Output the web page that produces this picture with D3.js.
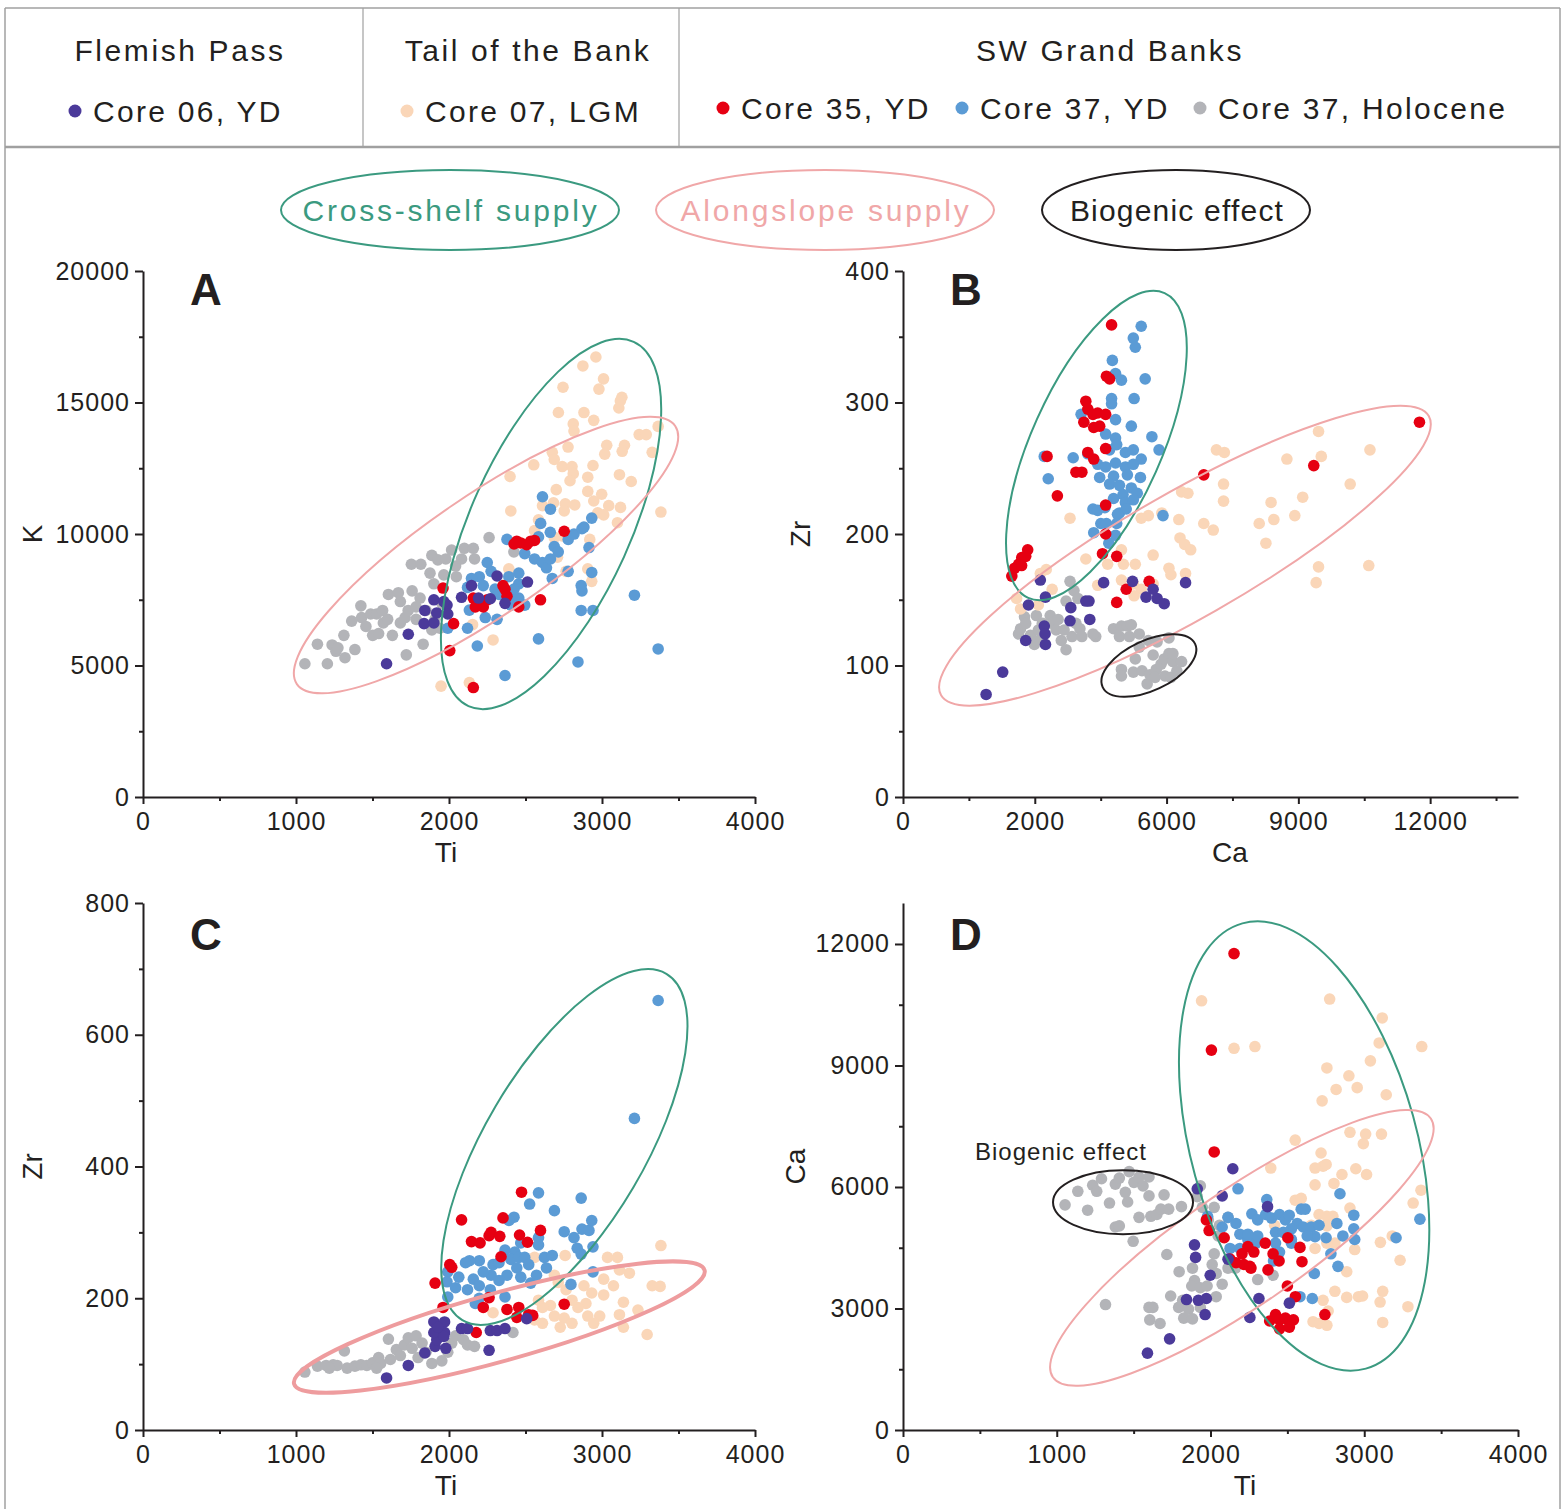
<!DOCTYPE html>
<html>
<head>
<meta charset="utf-8">
<script src="https://cdn.jsdelivr.net/npm/d3@7"></script>
<style>
  body { margin: 0; background: #fff; }
  text { font-family: "Liberation Sans", Arial, sans-serif; fill: #231f20; }
</style>
</head>
<body>
<div id="chart"></div>
<script>
// ---- data ----
// Panel A : Ti vs K
var a06 = [[1592,5066],[1734,6188],[1837,6593],[1842,7093],[1901,7498],[1920,6998],[1901,6620],[1987,7296],[1992,6958],[2082,7593],[2147,8038],[2193,7565],[2270,7538],[2314,8403],[2513,8174],[2366,7363],[1966,7431]];
var a07 = [[2960,16730],[2875,16390],[3010,15900],[2745,15580],[2980,15510],[3130,15200],[3120,15060],[3110,14790],[2715,14620],[2882,14618],[2946,14321],[2812,14186],[2817,13915],[3367,14091],[3243,13780],[3289,13780],[3031,13375],[3147,13375],[2778,13307],[2675,13105],[3018,13037],[3132,13145],[3328,13105],[2688,12834],[2740,12564],[2804,12564],[2812,12294],[2941,12605],[2554,12632],[2399,12186],[2907,12159],[3114,12254],[3191,11997],[2791,12024],[2701,11687],[2907,11619],[2998,11511],[2946,11254],[2760,11146],[2822,11105],[2683,11186],[2611,11078],[3044,11078],[3121,11011],[2753,10876],[2972,10808],[3011,10727],[2404,10876],[2585,10538],[3385,10835],[3101,10430],[2559,10133],[2688,9863],[2740,9930],[2920,9795],[2709,9119],[2391,8673],[2907,8673],[2933,8200],[2765,8579],[2288,5972],[2154,6553],[2133,4350],[1948,4215]];
var a35 = [[2443,9727],[2469,9660],[2534,9727],[2559,9754],[2508,9592],[2425,9619],[2753,10105],[2353,8038],[2366,7903],[2379,7633],[2159,7565],[2198,7431],[2224,7228],[2172,7228],[2250,7498],[2456,7228],[2598,7498],[2030,6593],[2005,5566],[2159,4161],[1961,7944]];
var a37 = [[2611,11416],[2663,10943],[2599,10403],[2662,10065],[2779,9795],[2817,9998],[2869,10200],[2882,10265],[2933,10605],[2915,9484],[2688,9525],[2585,9890],[2379,9795],[2495,9255],[2559,9052],[2611,8916],[2637,8714],[2714,9322],[2250,8916],[2275,8579],[2391,8376],[2456,8511],[2456,8106],[2198,8376],[2147,8309],[2121,7970],[2224,8038],[2301,7903],[2417,7633],[2456,7565],[2405,7296],[2495,7296],[2425,7903],[2327,7701],[2133,7106],[2237,6823],[2314,6755],[2121,6417],[1992,6417],[2185,5741],[2675,8309],[2779,8579],[2869,7836],[2864,8038],[2933,8538],[2864,7093],[2941,7093],[2585,6012],[3212,7673],[3367,5629],[2843,5134],[2366,4620],[2663,9052]];
var a37h = [[1058,5066],[1205,5066],[1140,5809],[1236,5782],[1261,5539],[1320,5296],[1385,5606],[1424,7268],[1429,6823],[1488,6958],[1527,6958],[1457,6485],[1501,6147],[1540,6215],[1571,6620],[1599,6755],[1604,7701],[1630,6147],[1669,7768],[1682,6620],[1713,6823],[1733,7093],[1721,5404],[1759,7836],[1785,6755],[1811,7565],[1831,5809],[1754,8849],[1816,8849],[1850,7093],[1888,9187],[1876,8511],[1901,8106],[1909,6755],[1927,9018],[1966,8444],[1979,9052],[2017,9390],[2043,8782],[2048,8376],[2082,9052],[2100,9457],[2159,9457],[2167,9052],[2262,9863],[2424,9322],[1953,7363],[1940,6417],[1888,6350],[1785,7228],[1682,7431],[1566,7093],[1313,6147],[1364,6688],[1274,5674]];

// Panel B : Ca vs Zr
var b06 = [[1892,78],[2270,95],[3126,165],[2856,146],[3243,152],[2793,119],[3216,130],[3234,124],[3243,116],[3802,134],[3820,144],[4162,149],[4234,149],[4252,135],[4567,163],[5225,164],[5532,152],[5694,158],[5784,151],[5946,147],[6432,163]];
var b07 = [[9459,278],[9522,259],[7135,264],[7315,262],[8739,257],[10630,264],[10180,238],[7297,238],[8379,224],[9099,228],[6342,232],[6486,231],[7297,225],[8919,214],[8442,211],[8109,208],[6847,208],[7063,203],[6279,211],[5892,216],[5585,214],[5423,212],[3802,212],[6306,197],[6414,192],[6549,188],[8261,193],[9459,175],[10603,176],[9405,163],[5694,184],[4973,188],[5288,177],[5018,177],[4658,177],[6054,174],[6099,169],[6432,170],[4162,181],[3261,173],[3126,170],[3396,158],[2586,151],[2676,143],[4432,161],[4973,165],[5243,162],[5423,158],[5694,162],[5261,153],[3081,146]];
var b35 = [[4748,359],[4631,320],[4703,318],[4162,301],[4207,295],[4117,285],[4324,291],[4432,292],[4613,291],[4342,281],[4477,282],[4207,262],[4613,265],[4342,257],[3937,247],[4072,247],[3279,259],[3514,229],[4613,222],[4613,200],[6847,245],[9351,252],[11757,285],[2477,168],[2541,174],[2631,177],[2703,182],[2793,183],[2838,188],[2700,176],[4541,185],[4865,183],[5604,164],[5081,158],[4865,148]];
var b37 = [[5423,358],[5243,349],[5288,342],[4766,332],[4838,322],[4973,317],[5513,318],[5261,303],[4748,303],[4748,299],[4838,287],[4054,291],[5198,282],[4613,276],[5666,274],[5829,264],[4838,273],[4865,268],[4703,264],[5063,262],[5243,264],[3216,259],[3874,258],[4207,261],[5423,257],[4432,253],[4613,251],[4838,254],[5063,251],[5243,253],[3306,242],[4477,243],[4793,244],[5108,245],[5405,243],[4703,238],[4928,237],[5198,235],[5333,231],[5009,230],[4793,227],[5063,224],[5243,226],[4324,219],[4432,218],[4595,220],[4928,216],[5081,219],[4883,215],[4504,208],[4631,208],[4865,208],[5919,214],[4342,201],[4838,199],[4685,193]];
var b37h = [[2766,137],[2676,128],[2631,124],[2793,132],[2901,123],[3036,138],[3081,127],[3171,132],[3081,119],[3351,138],[3396,132],[3486,127],[3531,135],[3604,119],[3712,112],[3802,164],[3892,157],[3712,149],[3982,151],[3937,132],[3847,122],[4027,128],[4072,122],[3667,127],[4387,122],[4324,124],[2991,116],[4793,128],[4973,130],[5108,130],[5198,131],[4928,122],[5153,122],[5378,124],[5585,119],[5784,118],[6054,121],[5378,114],[5288,105],[4973,97],[4973,92],[5243,95],[5441,96],[5558,86],[5621,93],[5766,97],[5874,101],[5946,105],[6054,109],[6144,103],[6234,96],[6342,103],[5964,92],[5739,91],[6099,91],[6144,109],[5694,108]];

// Panel C : Ti vs Zr
var c06 = [[1592,79],[1734,98],[1842,117],[1909,127],[1920,137],[1901,148],[1901,164],[1971,164],[1971,148],[1979,124],[1966,142],[1927,156],[2082,154],[2121,154],[2262,121],[2270,151],[2314,151],[2366,154],[2508,169]];
var c07 = [[3385,280],[3328,219],[3380,218],[3179,238],[3114,243],[3036,262],[3101,262],[3011,229],[3075,219],[2759,265],[2689,235],[2714,224],[2765,213],[2882,219],[2933,208],[2895,192],[3011,205],[3140,194],[3235,182],[3114,175],[2985,173],[2907,173],[2843,186],[2804,197],[2663,189],[2611,186],[2689,173],[2753,170],[2804,162],[2727,156],[2611,162],[2559,167],[2946,162],[3140,156],[3295,145],[2559,262],[2288,178],[2585,197]];
var c35 = [[2474,361],[2082,319],[2353,322],[2598,303],[2147,286],[2203,284],[2262,295],[2275,300],[2332,294],[2461,296],[2513,285],[2340,263],[2005,251],[2018,247],[1909,223],[2262,201],[1961,186],[2224,186],[2456,186],[2379,183],[2443,171],[2521,175],[2547,174],[2178,148],[2753,191]];
var c37 = [[3367,652],[3212,473],[2585,360],[2527,343],[2425,323],[2392,318],[2864,352],[2689,333],[2753,301],[2817,292],[2869,305],[2915,303],[2933,318],[2838,276],[2864,267],[2941,278],[2585,292],[2585,281],[2469,284],[2430,270],[2366,273],[2288,251],[2327,254],[2405,259],[2456,262],[2495,262],[2521,251],[2624,262],[2675,265],[2637,246],[2572,235],[2534,223],[2443,246],[2379,235],[2327,227],[2275,235],[2224,240],[2198,257],[2134,257],[2108,254],[2159,229],[2064,232],[1992,240],[1987,225],[2043,216],[2121,213],[2198,219],[2270,213],[2366,202],[2198,200],[2172,192],[1992,202],[2469,232],[2941,240],[2797,221]];
var c37h = [[1058,88],[1140,97],[1197,98],[1243,99],[1269,98],[1316,120],[1334,94],[1385,97],[1424,99],[1463,98],[1501,102],[1540,110],[1553,101],[1604,138],[1617,107],[1656,122],[1682,113],[1708,129],[1734,140],[1759,124],[1785,143],[1798,110],[1824,132],[1850,118],[1888,101],[2018,132],[2043,143],[2095,137],[2121,129],[2167,127],[1992,118],[1953,105],[2418,148],[1527,94],[1218,94]];

// Panel D : Ti vs Ca
var d06 = [[2145,6450],[2371,5515],[2076,5780],[1914,5956],[1896,4571],[1903,4262],[2114,4218],[1998,3821],[1844,3221],[1921,3203],[1973,3247],[1965,2850],[2315,3247],[2513,3132],[2256,2780],[1734,2250],[1590,1897]];
var d07 = [[1942,10597],[2775,10641],[3117,10174],[2153,9424],[2289,9468],[3097,9556],[3374,9468],[3040,9115],[2757,8939],[2900,8745],[2817,8409],[2954,8453],[2726,8127],[3143,8277],[2551,7156],[2907,7350],[3009,7306],[3112,7306],[2994,7068],[2719,6839],[2732,6512],[2752,6556],[2680,6468],[2680,6053],[2803,6088],[2855,6309],[2945,6450],[3015,6309],[2392,6468],[2907,5480],[3318,5603],[3369,5921],[2551,5674],[2590,5718],[2706,5321],[2757,5277],[2796,5277],[2655,5056],[2706,5056],[2757,5039],[2417,5056],[2680,4483],[2757,4615],[2809,4615],[2938,4456],[3105,4633],[3182,4791],[2886,3909],[3233,4191],[2809,3424],[2886,3274],[2963,3291],[2989,3309],[3120,3424],[3103,3159],[3284,3044],[2732,3203],[2765,2938],[2667,2674],[2706,2630],[2757,2585],[3120,2656]];
var d35 = [[2153,11763],[2006,9380],[2024,6865],[1991,4924],[1973,5188],[2089,4747],[2127,4218],[2166,4130],[2205,4350],[2243,4527],[2282,4394],[2217,4086],[2263,3997],[2356,4615],[2374,3953],[2407,4350],[2446,4174],[2503,4747],[2582,4509],[2595,4156],[2500,3556],[2552,3291],[2385,2691],[2423,2850],[2449,2718],[2487,2762],[2513,2674],[2539,2718],[2449,2497],[2513,2541],[2744,2850],[2256,4041]];
var d37 = [[2179,5956],[2366,5691],[2842,5833],[3362,5206],[3207,4747],[1981,5277],[2114,5250],[2166,5100],[2076,5012],[2269,5338],[2307,5188],[2359,5321],[2397,5233],[2449,5321],[2487,5188],[2512,5303],[2564,5100],[2590,5453],[2616,5453],[2603,5012],[2655,5012],[2680,4774],[2752,4747],[2822,5100],[2861,4791],[2932,5303],[2932,4968],[2938,4703],[2829,4041],[2783,4350],[2675,3865],[2582,3291],[2662,3247],[2191,4835],[2243,4703],[2295,4615],[2423,4880],[2423,4615],[2307,4791],[2127,4483],[2191,4483],[2243,4835],[2526,4968],[2474,4880],[2526,4703],[2449,4394],[2410,4174],[2526,4615],[2629,4791],[2706,5056]];
var d37h = [[1054,5559],[1137,5894],[1201,5427],[1234,6044],[1260,5894],[1291,6203],[1381,6071],[1407,6221],[1343,5603],[1446,5868],[1461,5630],[1471,6380],[1502,6115],[1535,6247],[1561,6027],[1600,6247],[1600,5780],[1535,5250],[1381,5012],[1407,5039],[1612,5277],[1651,5321],[1698,5806],[1677,5453],[1728,5453],[1811,5515],[1497,4659],[1317,3097],[1914,5762],[1934,6027],[1947,5497],[1986,5188],[2024,5497],[2114,5250],[2058,5056],[2050,4791],[2024,4350],[2011,4086],[2037,3865],[2076,3600],[2114,3997],[2161,3997],[2307,3715],[2407,3821],[1716,4333],[1796,3909],[1883,3997],[1896,3688],[1878,3556],[1934,3512],[1978,3556],[1741,3309],[1819,3203],[1793,3027],[1857,2983],[1934,3027],[1600,3027],[1625,3027],[1605,2718],[1672,2630],[1826,2762],[1883,2744],[2037,3291]];

// tick values / labels
var tiTicks = [0, 1000, 2000, 3000, 4000];
var tiMinor = [500, 1500, 2500, 3500];
var kTicks = [0, 5000, 10000, 15000, 20000];
var kMinor = [2500, 7500, 12500, 17500];
var zrBTicks = [0, 100, 200, 300, 400];
var zrBMinor = [50, 150, 250, 350];
var caBTicks = [0, 3000, 6000, 9000, 12000];
var caBLabels = ["0", "2000", "6000", "9000", "12000"];
var caBMinor = [1500, 4500, 7500, 10500, 13500];
var zrCTicks = [0, 200, 400, 600, 800];
var zrCMinor = [100, 300, 500, 700];
var caDTicks = [0, 3000, 6000, 9000, 12000];
var caDMinor = [1500, 4500, 7500, 10500];

var seriesNames = ["Core 06, YD", "Core 07, LGM", "Core 35, YD", "Core 37, YD", "Core 37, Holocene"];
var seriesColors = ["#4b3a9a", "#fad6b8", "#e60012", "#5b9bd5", "#b3b4b8"];

// ---- drawing ----
var W = 1564, H = 1509;
var svg = d3.select("#chart").append("svg")
    .attr("width", W).attr("height", H);

var ink = "#231f20";
var green = "#3b9a80", pink = "#f0a7a8";

// frame
var frame = svg.append("g").attr("fill", "none").attr("stroke", "#a0a0a0");
frame.append("line").attr("x1", 5).attr("x2", 1560).attr("y1", 8).attr("y2", 8).attr("stroke-width", 1.5);
frame.append("line").attr("x1", 5).attr("x2", 1560).attr("y1", 147).attr("y2", 147).attr("stroke-width", 2.5);
frame.append("line").attr("x1", 5).attr("x2", 5).attr("y1", 8).attr("y2", H).attr("stroke-width", 1.5);
frame.append("line").attr("x1", 1560).attr("x2", 1560).attr("y1", 8).attr("y2", H).attr("stroke-width", 1.5);
frame.append("line").attr("x1", 363).attr("x2", 363).attr("y1", 8).attr("y2", 147).attr("stroke-width", 1.2);
frame.append("line").attr("x1", 679).attr("x2", 679).attr("y1", 8).attr("y2", 147).attr("stroke-width", 1.2);

// header titles
var heads = [["Flemish Pass", 180], ["Tail of the Bank", 528], ["SW Grand Banks", 1110]];
svg.selectAll(".head").data(heads).enter().append("text")
    .attr("x", function (d) { return d[1]; })
    .attr("y", 61)
    .attr("text-anchor", "middle")
    .attr("font-size", "30px")
    .attr("letter-spacing", "2.6px")
    .text(function (d) { return d[0]; });

// series legend
var legendPos = [[75, 111], [407, 111], [723, 108], [962, 108], [1200, 108]];
var leg = svg.selectAll(".leg").data(seriesNames).enter().append("g")
    .attr("transform", function (d, i) { return "translate(" + legendPos[i][0] + "," + legendPos[i][1] + ")"; });
leg.append("circle").attr("r", 6.5).attr("fill", function (d, i) { return seriesColors[i]; });
leg.append("text").attr("x", 18).attr("y", 11)
    .attr("font-size", "30px").attr("letter-spacing", "2.3px")
    .text(function (d) { return d; });

// ellipse legend
var ellLegend = [
    { label: "Cross-shelf supply", cx: 450, rx: 169, color: green, sp: 2.8 },
    { label: "Alongslope supply", cx: 825, rx: 169, color: pink, sp: 2.8 },
    { label: "Biogenic effect", cx: 1176, rx: 134, color: ink, sp: 1.2 }
];
var el = svg.selectAll(".ell").data(ellLegend).enter().append("g");
el.append("ellipse").attr("cx", function (d) { return d.cx; }).attr("cy", 210)
    .attr("rx", function (d) { return d.rx; }).attr("ry", 40)
    .attr("fill", "none").attr("stroke", function (d) { return d.color; }).attr("stroke-width", 2);
el.append("text").attr("x", function (d) { return d.cx + 1; }).attr("y", 221)
    .attr("text-anchor", "middle").attr("font-size", "30px")
    .attr("letter-spacing", function (d) { return d.sp + "px"; })
    .style("fill", function (d) { return d.color; })
    .text(function (d) { return d.label; });

// panel settings
var panels = [
    { id: "A", left: 143, right: 755, bottom: 797, top: 271, xDom: [0, 4000], yDom: [0, 20000], letterY: 305,
      xT: tiTicks, xM: tiMinor, yT: kTicks, yM: kMinor, xLab: "Ti", yLab: "K", xLabX: 446, yLabX: 32,
      series: [a37h, a07, a37, a35, a06] },
    { id: "B", left: 903, right: 1518, bottom: 797, top: 271, xDom: [0, 14000], yDom: [0, 400], letterY: 305,
      xT: caBTicks, xTL: caBLabels, xM: caBMinor, yT: zrBTicks, yM: zrBMinor, xLab: "Ca", yLab: "Zr", xLabX: 1230, yLabX: 800,
      series: [b37h, b07, b37, b35, b06] },
    { id: "C", left: 143, right: 755, bottom: 1430, top: 903, xDom: [0, 4000], yDom: [0, 800], letterY: 950,
      xT: tiTicks, xM: tiMinor, yT: zrCTicks, yM: zrCMinor, xLab: "Ti", yLab: "Zr", xLabX: 446, yLabX: 32,
      series: [c37h, c07, c37, c35, c06] },
    { id: "D", left: 903, right: 1518, bottom: 1430, top: 903, xDom: [0, 4000], yDom: [0, 13012], letterY: 950,
      xT: tiTicks, xM: tiMinor, yT: caDTicks, yM: caDMinor, xLab: "Ti", yLab: "Ca", xLabX: 1245, yLabX: 795,
      series: [d37h, d07, d37, d35, d06] }
];
// series drawing order -> colour index
var drawColor = [4, 1, 3, 2, 0];

// ellipse annotations: centre in data units, radii in px, rotation in degrees
var ellipses = [
    { p: "A", c: [2667, 10380], rx: 200, ry: 80, rot: -65.6, color: green, w: 2 },
    { p: "A", c: [2242, 9200], rx: 229, ry: 60, rot: -34.3, color: pink, w: 2 },
    { p: "B", c: [4403, 267.3], rx: 167, ry: 65, rot: -65.9, color: green, w: 2 },
    { p: "B", c: [6418, 183.5], rx: 281, ry: 63, rot: -29.8, color: pink, w: 2 },
    { p: "B", c: [5597, 100], rx: 51, ry: 25, rot: -25, color: ink, w: 2 },
    { p: "C", c: [2754, 429.6], rx: 201, ry: 80, rot: -59.5, color: green, w: 2 },
    { p: "C", c: [2329, 156.2], rx: 213, ry: 34, rot: -15.5, color: "#ee9c9e", w: 4 },
    { p: "D", c: [2609, 7012], rx: 231, ry: 113, rot: -105.5, color: green, w: 2 },
    { p: "D", c: [2204, 4496], rx: 229, ry: 58, rot: -34.4, color: pink, w: 2 },
    { p: "D", c: [1431, 5622], rx: 70, ry: 32, rot: 0, color: ink, w: 2 }
];

panels.forEach(function (p) {
    var x = d3.scaleLinear().domain(p.xDom).range([p.left, p.right]);
    var y = d3.scaleLinear().domain(p.yDom).range([p.bottom, p.top]);
    var g = svg.append("g");

    // points
    p.series.forEach(function (s, k) {
        g.append("g").selectAll("circle").data(s).enter().append("circle")
            .attr("cx", function (d) { return x(d[0]); })
            .attr("cy", function (d) { return y(d[1]); })
            .attr("r", 5.8)
            .attr("fill", seriesColors[drawColor[k]]);
    });

    // ellipses
    ellipses.filter(function (e) { return e.p === p.id; }).forEach(function (e) {
        g.append("ellipse")
            .attr("transform", "translate(" + x(e.c[0]) + "," + y(e.c[1]) + ") rotate(" + e.rot + ")")
            .attr("rx", e.rx).attr("ry", e.ry)
            .attr("fill", "none").attr("stroke", e.color).attr("stroke-width", e.w);
    });

    // axes
    var xAxis = d3.axisBottom(x).tickValues(p.xT).tickSizeInner(7).tickSizeOuter(0).tickPadding(8)
        .tickFormat(function (d, i) { return p.xTL ? p.xTL[i] : d; });
    var yAxis = d3.axisLeft(y).tickValues(p.yT).tickSizeInner(8).tickSizeOuter(0).tickPadding(5)
        .tickFormat(function (d) { return d; });
    g.append("g").attr("transform", "translate(0," + p.bottom + ")").call(xAxis);
    g.append("g").attr("transform", "translate(" + p.left + ",0)").call(yAxis);
    g.append("g").attr("transform", "translate(0," + p.bottom + ")")
        .call(d3.axisBottom(x).tickValues(p.xM).tickSize(4).tickFormat("")).select(".domain").remove();
    g.append("g").attr("transform", "translate(" + p.left + ",0)")
        .call(d3.axisLeft(y).tickValues(p.yM).tickSize(4).tickFormat("")).select(".domain").remove();
    g.selectAll(".domain, .tick line").attr("stroke", ink).attr("stroke-width", 2);
    g.selectAll(".tick text").attr("font-size", "25px").attr("letter-spacing", "1px")
        .attr("font-family", "'Liberation Sans', Arial, sans-serif").style("fill", ink);

    // axis titles
    g.append("text").attr("x", p.xLabX).attr("y", p.bottom + 65)
        .attr("text-anchor", "middle").attr("font-size", "28px").text(p.xLab);
    g.append("text")
        .attr("transform", "translate(" + (p.yLabX + 10) + "," + ((p.top + p.bottom) / 2) + ") rotate(-90)")
        .attr("text-anchor", "middle").attr("font-size", "28px").text(p.yLab);

    // panel letter
    g.append("text").attr("x", p.left + 47).attr("y", p.letterY)
        .attr("font-size", "44px").attr("font-weight", "bold").text(p.id);
});

// label inside panel D
svg.append("text").attr("x", 1061).attr("y", 1160)
    .attr("text-anchor", "middle").attr("font-size", "24px").attr("letter-spacing", "1px")
    .text("Biogenic effect");
</script>
</body>
</html>
